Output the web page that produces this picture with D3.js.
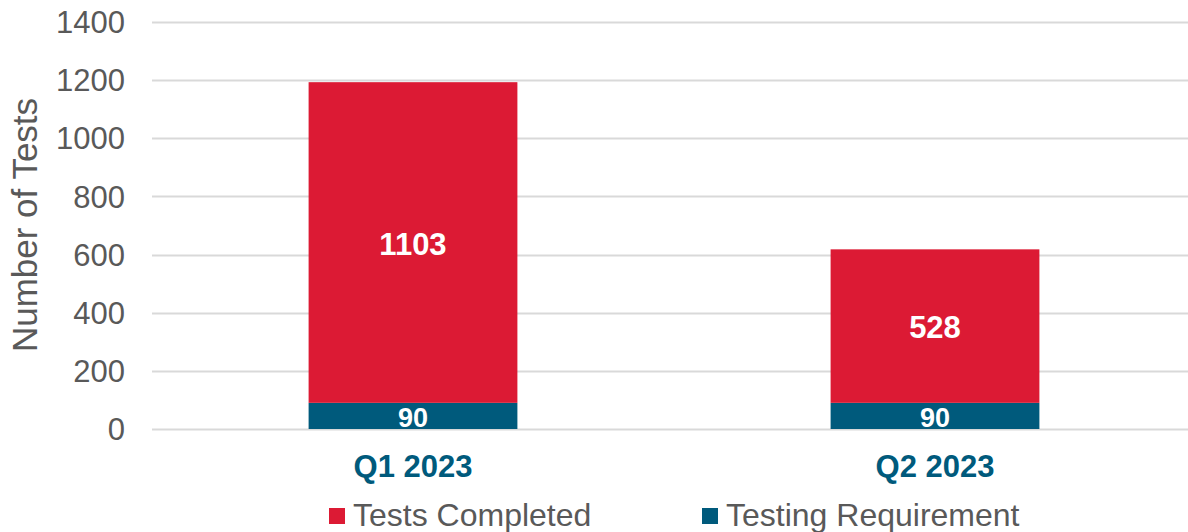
<!DOCTYPE html>
<html><head><meta charset="utf-8">
<script src="https://cdn.jsdelivr.net/npm/d3@7"></script>
<style>body{margin:0;background:#fff;}svg{display:block;font-family:"Liberation Sans",Arial,sans-serif;}</style>
</head><body>
<svg id="c" width="1188" height="532"></svg>
<script>
const categories = ["Q1 2023", "Q2 2023"];
const requirement = [90, 90];
const completed = [1103, 528];
const yTicks = [0, 200, 400, 600, 800, 1000, 1200, 1400];
const seriesNames = ["Tests Completed", "Testing Requirement"];

const colors = {completed: "#DC1A34", requirement: "#005A7C"};
const svg = d3.select("#c");
const y = d3.scaleLinear().domain([0, 1400]).range([429, 22]);
const x = d3.scaleBand().domain(categories).range([152, 1196]).paddingInner(0.6).paddingOuter(0.3);

// grid
svg.append("g").selectAll("line").data(yTicks).join("line")
  .attr("x1", 152).attr("x2", 1188)
  .attr("y1", d => Math.round(y(d)) + 0.5).attr("y2", d => Math.round(y(d)) + 0.5)
  .attr("stroke", "#d9d9d9").attr("stroke-width", 2);

// y tick labels
svg.append("g").selectAll("text").data(yTicks).join("text")
  .attr("x", 125).attr("y", d => y(d)).attr("dy", "0.36em")
  .attr("text-anchor", "end").attr("font-size", 31).attr("fill", "#595959")
  .text(d => d);

// axis title
svg.append("text").attr("transform", "translate(37,225) rotate(-90)")
  .attr("text-anchor", "middle").attr("font-size", 35).attr("fill", "#595959")
  .text("Number of Tests");

const rows = categories.map((c, i) => ({c, req: requirement[i], comp: completed[i]}));

// requirement segment
svg.append("g").selectAll("rect").data(rows).join("rect")
  .attr("x", d => x(d.c)).attr("width", x.bandwidth())
  .attr("y", d => y(d.req)).attr("height", d => y(0) - y(d.req))
  .attr("fill", colors.requirement);
// completed segment
svg.append("g").selectAll("rect").data(rows).join("rect")
  .attr("x", d => x(d.c)).attr("width", x.bandwidth())
  .attr("y", d => y(d.req + d.comp)).attr("height", d => y(d.req) - y(d.req + d.comp))
  .attr("fill", colors.completed);

// labels
svg.append("g").selectAll("text").data(rows).join("text")
  .attr("x", d => x(d.c) + x.bandwidth() / 2)
  .attr("y", d => (y(d.req) + y(d.req + d.comp)) / 2 + 1).attr("dy", "0.36em")
  .attr("text-anchor", "middle").attr("font-size", 31).attr("font-weight", "bold").attr("fill", "#fff")
  .text(d => d.comp);
svg.append("g").selectAll("text").data(rows).join("text")
  .attr("x", d => x(d.c) + x.bandwidth() / 2)
  .attr("y", d => (y(0) + y(d.req)) / 2 + 1).attr("dy", "0.36em")
  .attr("text-anchor", "middle").attr("font-size", 27).attr("font-weight", "bold").attr("fill", "#fff")
  .text(d => d.req);

// category labels
svg.append("g").selectAll("text").data(categories).join("text")
  .attr("x", d => x(d) + x.bandwidth() / 2).attr("y", 477)
  .attr("text-anchor", "middle").attr("font-size", 31).attr("font-weight", "bold").attr("fill", "#005A7C")
  .text(d => d);

// legend
const leg = [{name: seriesNames[0], color: colors.completed, x: 329},
             {name: seriesNames[1], color: colors.requirement, x: 702}];
const lg = svg.append("g").selectAll("g").data(leg).join("g");
lg.append("rect").attr("x", d => d.x).attr("y", 508).attr("width", 16).attr("height", 16).attr("fill", d => d.color);
lg.append("text").attr("x", d => d.x + 24).attr("y", 526)
  .attr("font-size", 32).attr("fill", "#595959").text(d => d.name);
</script>
</body></html>
